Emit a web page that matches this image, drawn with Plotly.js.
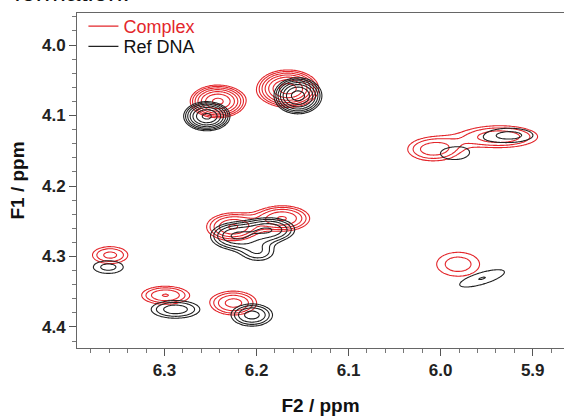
<!DOCTYPE html>
<html>
<head>
<meta charset="utf-8">
<script src="https://cdn.plot.ly/plotly-3.0.1.min.js"></script>
<style>html,body{margin:0;padding:0;background:#fff;}#chart{width:564px;height:416px;}</style>
</head>
<body>
<div id="chart"></div>
<script>
// Peak list (F2 = x ppm, F1 = y ppm)
// Complex (red)
const complexF2     = [6.242, 6.166, 6.008, 5.936, 6.226, 6.172, 6.359, 6.299, 6.225, 5.981];
const complexF1     = [4.080, 4.062, 4.148, 4.130, 4.258, 4.246, 4.298, 4.355, 4.366, 4.311];
const complexWidthF2 = [0.0155, 0.017, 0.022, 0.032, 0.018, 0.019, 0.0163, 0.019, 0.0175, 0.024];
const complexWidthF1 = [0.012, 0.0135, 0.013, 0.012, 0.0125, 0.0115, 0.0102, 0.0095, 0.0118, 0.0175];
const complexHeight  = [6.5, 7.0, 2.2, 2.3, 3.4, 3.4, 2.0, 2.5, 2.8, 1.6];
const complexTilt    = [0, 0, 0, 0, 0, 0, 0, 0, 0, 0];
// Ref DNA (black)
const refF2     = [6.254, 6.155, 5.925, 5.985, 6.224, 6.186, 6.198, 6.361, 6.288, 6.205, 5.955];
const refF1     = [4.101, 4.072, 4.128, 4.154, 4.271, 4.262, 4.294, 4.315, 4.375, 4.383, 4.331];
const refWidthF2 = [0.013, 0.0132, 0.028, 0.025, 0.017, 0.018, 0.015, 0.018, 0.021, 0.0156, 0.031];
const refWidthF1 = [0.0107, 0.013, 0.011, 0.014, 0.012, 0.011, 0.011, 0.010, 0.010, 0.011, 0.011];
const refHeight  = [6.5, 7.0, 1.5, 1.2, 3.2, 3.2, 1.7, 1.5, 2.2, 2.8, 1.36];
const refTilt    = [0, 0, 0, 0, 0, 0, 0, 0, 0, 0, 0.36];

const seriesNames = ['Complex', 'Ref DNA'];
const seriesColors = ['#e3262b', '#222222'];

// grid for the 2D spectrum
const f2Axis = [], f1Axis = [];
for (let v = 5.860; v <= 6.400001; v += 0.0015) f2Axis.push(+v.toFixed(5));
for (let v = 3.950; v <= 4.440001; v += 0.0015) f1Axis.push(+v.toFixed(5));

function spectrum(px, py, wx, wy, amp, tilt) {
  const z = [];
  for (let j = 0; j < f1Axis.length; j++) {
    const row = [];
    const y = f1Axis[j];
    for (let i = 0; i < f2Axis.length; i++) {
      const x = f2Axis[i];
      let s = 1e-6;
      for (let k = 0; k < px.length; k++) {
        const u = (x - px[k]) / wx[k];
        const v = (y - py[k] - tilt[k] * (x - px[k])) / wy[k];
        s += amp[k] * Math.exp(-0.5 * (u * u + v * v));
      }
      row.push(Math.log(s));
    }
    z.push(row);
  }
  return z;
}

const levelStep = Math.log(1.35);
function contourTrace(z, color) {
  return {
    type: 'contour', x: f2Axis, y: f1Axis, z: z,
    autocontour: false,
    contours: {coloring: 'lines', start: 0, end: 2.2, size: levelStep, showlabels: false},
    colorscale: [[0, color], [1, color]],
    showscale: false, showlegend: false, hoverinfo: 'skip',
    line: {width: 1.1, smoothing: 1}
  };
}

const data = [
  contourTrace(spectrum(complexF2, complexF1, complexWidthF2, complexWidthF1, complexHeight, complexTilt), seriesColors[0]),
  contourTrace(spectrum(refF2, refF1, refWidthF2, refWidthF1, refHeight, refTilt), seriesColors[1]),
  {type: 'scatter', mode: 'lines', x: [null], y: [null], legend: 'legend',
   name: '<span style="color:' + seriesColors[0] + '">' + seriesNames[0] + '</span>', line: {color: seriesColors[0], width: 1.3}},
  {type: 'scatter', mode: 'lines', x: [null], y: [null], legend: 'legend2',
   name: seriesNames[1], line: {color: seriesColors[1], width: 1.3}}
];

const fontFam = 'Liberation Sans, Arial, sans-serif';
const legendBase = {xanchor: 'left', yanchor: 'top', bgcolor: 'rgba(0,0,0,0)',
                    font: {family: fontFam, size: 18, color: '#111'}};
const layout = {
  width: 564, height: 416,
  margin: {l: 77, r: 0, t: 13, b: 68},
  paper_bgcolor: '#fff', plot_bgcolor: '#fff',
  font: {family: fontFam, color: '#111'},
  showlegend: true,
  legend: Object.assign({x: 0.0132, y: 1.015}, legendBase),
  legend2: Object.assign({x: 0.0132, y: 0.955}, legendBase),
  xaxis: {
    range: [6.395, 5.866], dtick: 0.1, tick0: 6.0, tickformat: '.1f',
    ticks: 'outside', ticklen: 7, tickwidth: 1, tickcolor: '#555',
    showline: true, linecolor: '#666', linewidth: 1, mirror: true,
    showgrid: false, zeroline: false,
    minor: {dtick: 0.02, tick0: 6.0, ticks: 'outside', ticklen: 4, tickcolor: '#777', showgrid: false},
    tickfont: {family: fontFam, size: 17, weight: 'bold', color: '#222'},
    title: {text: 'F2 / ppm', font: {family: fontFam, size: 19, weight: 'bold', color: '#111'}, standoff: 22}
  },
  yaxis: {
    range: [4.4298, 3.9546], dtick: 0.1, tick0: 4.0, tickformat: '.1f',
    ticks: 'outside', ticklen: 7, tickwidth: 1, tickcolor: '#555',
    showline: true, linecolor: '#666', linewidth: 1, mirror: false,
    showgrid: false, zeroline: false,
    minor: {dtick: 0.02, tick0: 4.0, ticks: 'outside', ticklen: 4, tickcolor: '#777', showgrid: false},
    tickfont: {family: fontFam, size: 17, weight: 'bold', color: '#222'},
    title: {text: 'F1 / ppm', font: {family: fontFam, size: 19, weight: 'bold', color: '#111'}, standoff: 12}
  },
  annotations: [{
    text: 'formation.', xref: 'paper', yref: 'paper', x: -0.1335, y: 1, xanchor: 'left', yanchor: 'bottom',
    showarrow: false, font: {family: fontFam, size: 26, color: '#111'}, yshift: 4
  }]
};

Plotly.newPlot('chart', data, layout, {displayModeBar: false, staticPlot: true});
</script>
</body>
</html>
